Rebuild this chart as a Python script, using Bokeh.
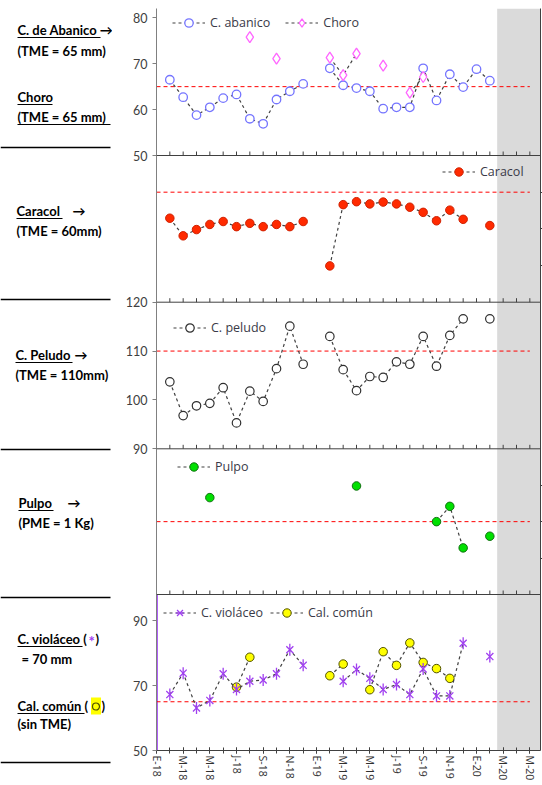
import math
import numpy as np
from bokeh.plotting import figure
from bokeh.models import (Range1d, LinearAxis, FixedTicker, Legend, LegendItem,
                          Span, BoxAnnotation)
from bokeh.layouts import row
from bokeh.embed import file_html
from bokeh.resources import INLINE
from bokeh.core.properties import value

# ---------------- data ----------------
months = list(range(1, 26))            # Feb-2018 .. Feb-2020 (0 = Jan-2018)
axis_months = list(range(0, 29))
label_months = list(range(0, 29, 2))
month_labels = ["E-18", "M-18", "M-18", "J-18", "S-18", "N-18", "E-19", "M-19",
                "M-19", "J-19", "S-19", "N-19", "E-20", "M-20", "M-20"]

abanico = [66.5, 62.7, 58.8, 60.5, 62.5, 63.3, 58.0, 56.9, 62.2, 64.0, 65.6, None,
           69.0, 65.3, 64.7, 64.0, 60.2, 60.5, 60.5, 69.0, 62.0, 67.7, 64.9, 68.8, 66.3]
choro = [None, None, None, None, None, None, 75.8, None, 71.1, None, None, None,
         71.3, 67.5, 72.2, None, 69.6, None, 63.7, 67.1, None, None, None, None, None]
caracol = [52.9, 48.1, 49.8, 51.2, 52.0, 50.6, 51.5, 50.6, 51.2, 50.6, 52.0, None,
           39.9, 56.6, 57.4, 56.8, 57.3, 56.8, 55.9, 54.5, 52.2, 55.1, 52.6, None, 50.9]
peludo = [103.7, 96.8, 98.8, 99.3, 102.5, 95.3, 101.8, 99.7, 106.4, 115.1, 107.3, None,
          113.0, 106.2, 101.9, 104.8, 104.6, 107.8, 107.3, 113.0, 106.9, 113.2, 116.6, None, 116.6]
pulpo = [None, None, None, 1.33, None, None, None, None, None, None, None, None,
         None, None, 1.49, None, None, None, None, None, 1.0, 1.21, 0.64, None, 0.80]
violaceo = [67.2, 73.8, 63.1, 65.4, 73.6, 68.8, 71.3, 71.7, 73.6, 81.0, 76.2, None,
            None, 71.3, 74.9, 72.2, 68.8, 70.3, 67.2, 75.1, 66.8, 66.8, 83.0, None, 78.9]
calcomun = [None, None, None, None, None, 69.5, 78.7, None, None, None, None, None,
            73.0, 76.6, None, 68.7, 80.4, 76.2, 83.1, 77.1, 75.2, 72.2, None, None, None]

tme = [65, 60, 110, 1, 65]           # threshold per panel
tme_end = 28                          # threshold line extends to this month
forecast_start = 25.55                # grey shaded period start

left_ticks = {"p1": [50, 60, 70, 80], "p3": [90, 100, 110, 120], "p5": [50, 70, 90]}
right_ticks = {"p2": [40, 50, 60], "p4": [0.5, 1, 1.5]}

# ---------------- layout (page pixel geometry) ----------------
FT, FB = 8.0, 750.0                  # frame top/bottom, page px
H = FB - FT
anchors = {
    "p1": ((50, 155.0), (80, 17.3)),
    "p2": ((30, 301.7), (70, 155.0)),
    "p3": ((90, 448.3), (120, 301.7)),
    "p4": ((0, 594.0), (2, 448.3)),
    "p5": ((50, 750.0), (90, 620.0)),
}
boundaries = [155.0, 301.7, 448.3, 594.0]
p5_top = 594.0

TOTAL_W, TOTAL_H = 542, 785
LEFT_W = 112
MAIN_W = TOTAL_W - LEFT_W
BORDER_L, BORDER_R, BORDER_B = 44, 2, int(TOTAL_H - FB)


def rng(name):
    (va, ya), (vb, yb) = anchors[name]
    ma, mb = FB - ya, FB - yb
    k = (vb - va) / (mb - ma)
    start = va - ma * k
    return Range1d(start, start + H * k)


def to_main(name, v):
    (va, ya), (vb, yb) = anchors[name]
    ma, mb = FB - ya, FB - yb
    return round(ma + (v - va) * (mb - ma) / (vb - va), 4)


def arr(a):
    return np.array(a, dtype=float)


p = figure(width=MAIN_W, height=TOTAL_H, x_range=Range1d(0, 28.8), y_range=Range1d(0, H),
           output_backend="svg", toolbar_location=None, x_axis_type=None, y_axis_type=None,
           min_border_left=BORDER_L, min_border_right=BORDER_R, min_border_top=int(FT),
           min_border_bottom=BORDER_B)
p.outline_line_color = None
p.background_fill_color = "white"
p.frame_align = False
p.extra_y_ranges = {n: rng(n) for n in anchors}

# shaded period
p.add_layout(BoxAnnotation(left=forecast_start, fill_color="#DADADA", fill_alpha=1.0,
                           line_color=None, level="underlay"))

# axes
xaxis = LinearAxis(ticker=FixedTicker(ticks=label_months, minor_ticks=axis_months),
                   major_label_overrides={m: l for m, l in zip(label_months, month_labels)},
                   major_label_orientation="vertical",
                   major_tick_in=3, major_tick_out=3, minor_tick_in=3, minor_tick_out=3,
                   axis_line_color="#404040", major_tick_line_color="#404040",
                   minor_tick_line_color="#404040", major_label_standoff=2,
                   major_label_text_font="Open Sans", major_label_text_font_size="10.5px",
                   major_label_text_color="#303030")
p.add_layout(xaxis, "below")

ypos, ylab = [], {}
for name, ticks in left_ticks.items():
    for t in ticks:
        pos = to_main(name, t)
        ypos.append(pos)
        ylab[pos] = str(t)
yaxis = LinearAxis(ticker=FixedTicker(ticks=ypos, minor_ticks=[]), major_label_overrides=ylab,
                   major_tick_in=0, major_tick_out=4, axis_line_color="#808080",
                   major_tick_line_color="#808080", major_label_standoff=5,
                   major_label_text_font="Lato", major_label_text_font_size="12.5px",
                   major_label_text_color="#404040")
p.add_layout(yaxis, "left")

rpos = []
for name, ticks in right_ticks.items():
    rpos += [to_main(name, t) for t in ticks]
raxis = LinearAxis(ticker=FixedTicker(ticks=rpos, minor_ticks=[]),
                   major_label_overrides={r: "" for r in rpos},
                   major_tick_in=0, major_tick_out=2, major_label_standoff=0,
                   major_label_text_font_size="0px", axis_line_color="#404040",
                   major_tick_line_color="#404040")
p.add_layout(raxis, "right")

# purple axis segment for bottom panel
p.segment(x0=[0], x1=[0], y0=[0], y1=[FB - p5_top], line_color="#B060F8", line_width=3)

# panel boundaries with inward ticks
for b in boundaries:
    p.add_layout(Span(location=FB - b, dimension="width", line_color="#404040", line_width=1))
    p.ray(x=axis_months[1:], y=[FB - b] * (len(axis_months) - 1), length=4, length_units="screen",
          angle=math.pi / 2, line_color="#404040", line_width=1)

# thresholds
for name, t in zip(["p1", "p2", "p3", "p4", "p5"], tme):
    p.segment(x0=[0], x1=[tme_end], y0=[t], y1=[t], y_range_name=name,
              line_color="#FF0000", line_dash="4 3", line_width=1)

DASH = dict(line_dash="3 3", line_color="#404040", line_width=1.2)


def series(vals, rname, **kw):
    ln = p.line(months, arr(vals), y_range_name=rname, **DASH)
    sc = p.scatter(months, arr(vals), y_range_name=rname, **kw)
    return ln, sc


l1, s1 = series(abanico, "p1", marker="circle", size=8.5, line_color="#7575FF",
                fill_color="white", line_width=1.3)
l2, s2 = series(choro, "p1", marker="diamond", size=11, line_color="#FF66FF",
                fill_color="white", line_width=1.3)
l3, s3 = series(caracol, "p2", marker="circle", size=8.5, line_color="#D02000",
                fill_color="#FF2A00", line_width=1)
l4, s4 = series(peludo, "p3", marker="circle", size=8.5, line_color="#303030",
                fill_color="white", line_width=1.2)
l5, s5 = series(pulpo, "p4", marker="circle", size=8.5, line_color="#107010",
                fill_color="#00E000", line_width=1)
l7, s7 = series(calcomun, "p5", marker="circle", size=8.5, line_color="#505000",
                fill_color="#FFFF00", line_width=1)
l6, s6 = series(violaceo, "p5", marker="x", size=10, line_color="#A040F0", line_width=1.3)
s6b = p.scatter(months, arr(violaceo), y_range_name="p5", marker="dash", angle=math.pi / 2,
                size=12, line_color="#A040F0", line_width=1.3)

GH = 21


def legend(items, x_px, yc_px, spacing):
    leg = Legend(items=items, location=(x_px, FB - yc_px - GH / 2),
                 orientation="horizontal", glyph_width=33, glyph_height=GH, label_height=GH,
                 label_standoff=5, spacing=spacing, padding=0, margin=0,
                 border_line_color=None, background_fill_alpha=0,
                 label_text_font="Open Sans", label_text_font_size="12.5px",
                 label_text_color="#3A3A48")
    p.add_layout(leg)


legend([LegendItem(label="C. abanico", renderers=[l1, s1]),
        LegendItem(label="Choro", renderers=[l2, s2])], 16, 22, 15)
legend([LegendItem(label="Caracol", renderers=[l3, s3])], 286, 171, 5)
legend([LegendItem(label="C. peludo", renderers=[l4, s4])], 17, 327, 5)
legend([LegendItem(label="Pulpo", renderers=[l5, s5])], 21, 466, 5)
legend([LegendItem(label="C. violáceo", renderers=[l6, s6, s6b]),
        LegendItem(label="Cal. común", renderers=[l7, s7])], 7, 612, 7)

# ---------------- left label panel ----------------
lf = figure(width=LEFT_W, height=TOTAL_H, x_range=Range1d(0, LEFT_W),
            y_range=Range1d(TOTAL_H, 0), output_backend="svg",
            toolbar_location=None, x_axis_type=None, y_axis_type=None, min_border=0)
lf.outline_line_color = None
lf.frame_align = False

BOLD = dict(text_font=value("Lato"), text_font_style="bold", text_font_size="13px",
            text_baseline="middle", text_align="left", text_color="black")
lf.text(x=[17, 17, 17, 17, 16, 16, 15, 15, 18, 18, 17, 21, 17, 17],
        y=[29, 50, 96, 116, 210, 230, 354, 374, 502, 522, 638, 658, 705, 723],
        text=["C. de Abanico →", "(TME = 65 mm)", "Choro", "(TME = 65 mm)",
              "Caracol", "(TME = 60mm)", "C. Peludo", "(TME = 110mm)",
              "Pulpo", "(PME = 1 Kg)", "C. violáceo (", "= 70 mm", "Cal. común (",
              "(sin TME)"], **BOLD)
lf.text(x=[72, 74, 67], y=[210, 354, 502], text=["→", "→", "→"], **BOLD)
# purple asterisk and closing parens
lf.text(x=[88], y=[640], text=["*"], **{**BOLD, "text_color": "#A040F0",
                                        "text_font_size": "15px"})
lf.text(x=[95, 101], y=[638, 705], text=[")", ")"], **BOLD)
lf.quad(left=[90.5], right=[100.5], top=[697], bottom=[714], fill_color="#FFFF00",
        line_color=None)
lf.scatter(x=[95.5], y=[706], marker="circle", size=7, fill_color=None, line_color="#505000",
           line_width=1.2)
# underlines
lf.segment(x0=[17, 17, 17, 16, 15, 18, 17, 17], x1=[100, 52, 110, 62, 72, 53, 82, 84],
           y0=[37, 104, 124, 218, 362, 510, 646, 713], y1=[37, 104, 124, 218, 362, 510, 646, 713],
           line_color="black", line_width=1.2)
# separators
seps = [147, 299, 449, 597, 762]
lf.segment(x0=[0] * len(seps), x1=[110] * len(seps), y0=seps, y1=seps,
           line_color="black", line_width=1.3)

layout = row(lf, p)
open("out.html", "w").write(file_html(layout, INLINE))
